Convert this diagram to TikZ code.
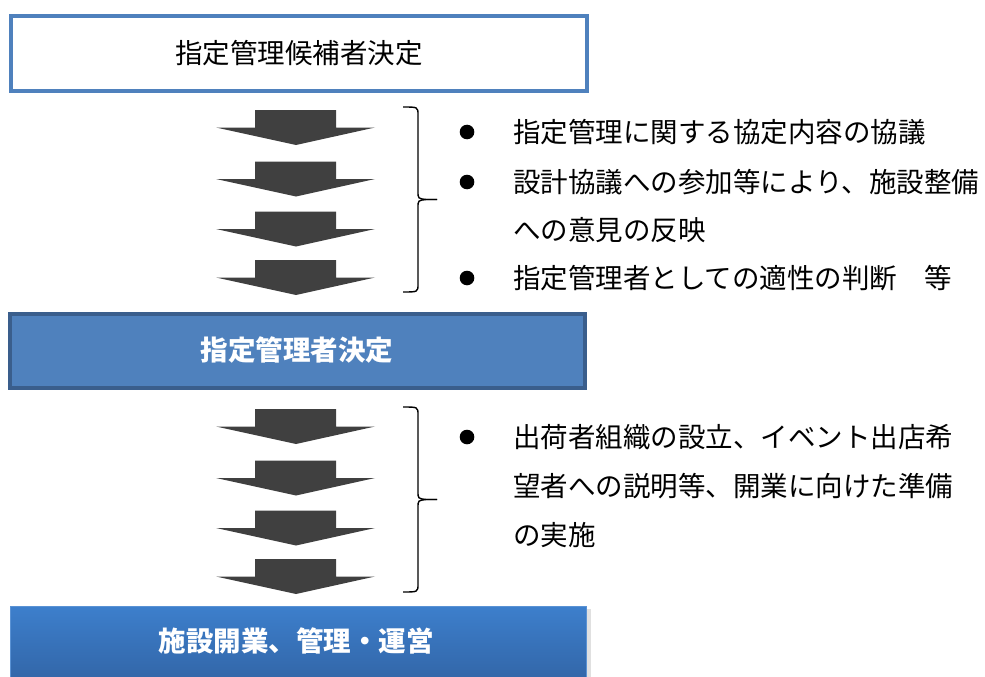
\documentclass[tikz,border=0pt]{standalone}
\usepackage{fontspec}
\newfontfamily\jp{Noto Sans CJK JP}
\definecolor{boxblue}{HTML}{4F81BD}
\definecolor{boxedge}{HTML}{3A5E8C}
\definecolor{gradtop}{HTML}{3D7FCC}
\definecolor{gradbot}{HTML}{2F5F9E}
\definecolor{arrowgray}{HTML}{404040}
\tikzset{
  boxtext/.style={font=\jp\fontsize{27.5}{32}\selectfont, inner sep=0pt},
  boxbold/.style={font=\jp\bfseries\fontsize{27.5}{32}\selectfont, inner sep=0pt, text=white},
  bodytext/.style={font=\jp\fontsize{27.5}{32}\selectfont, inner sep=0pt, anchor=west},
  bigarrow/.style={fill=arrowgray, draw=none},
  bracepath/.style={draw=black, line width=1.4pt},
}
\newcommand{\downarrowshape}[1]{%
  \fill[bigarrow] (255,#1) -- (336,#1) -- (336,#1+17.5) -- (375,#1+17.5)
    -- (296,#1+35) -- (216,#1+17.5) -- (255,#1+17.5) -- cycle;}
\newcommand{\bracketshape}[2]{%
  \draw[bracepath] (403,#1) .. controls (418,#1) .. (418,#1+8) -- (418,#2-8)
    .. controls (418,#2-1) .. (426,#2) -- (437,#2);
  \draw[bracepath] (437,#2) -- (426,#2) .. controls (418,#2+1) .. (418,#2+8)
    -- (418,2*#2-#1-8) .. controls (418,2*#2-#1) .. (403,2*#2-#1);}
\begin{document}
\begin{tikzpicture}[x=1pt,y=-1pt]
\useasboundingbox (0,0) rectangle (985,677);
\clip (0,0) rectangle (985,677);

% top box
\draw[draw=boxblue, line width=4pt, fill=white] (11,16) rectangle (587,91);
\node[boxtext, text=black] (top) at (299,53) {指定管理候補者決定};

% middle box
\draw[draw=boxedge, line width=3.5pt, fill=boxblue] (10,314) rectangle (585,388);
\node[boxbold] (mid) at (297,350) {指定管理者決定};

% bottom box
\fill[black!20, opacity=0.6] (587,609) rectangle (591,700);
\shade[top color=gradtop, bottom color=gradbot, draw=gradtop!85!white, line width=0.8pt] (10,606) rectangle (586,700);
\node[boxbold] (bot) at (296,641) {施設開業、管理・運営};

% arrows group 1
\downarrowshape{110}
\downarrowshape{161.5}
\downarrowshape{211.5}
\downarrowshape{260}
% arrows group 2
\downarrowshape{409}
\downarrowshape{460.5}
\downarrowshape{510.5}
\downarrowshape{559}

% braces
\bracketshape{107}{199.5}
\bracketshape{407}{499.5}

% bullets and text group 1
\fill (467,132) circle (7.3);
\node[bodytext] (t1) at (513,132) {指定管理に関する協定内容の協議};
\fill (467,182) circle (7.3);
\node[bodytext] (t2) at (513,182) {設計協議への参加等により、施設整備};
\node[bodytext] (t3) at (513,230) {への意見の反映};
\fill (467,278) circle (7.3);
\node[bodytext] (t4) at (513,278) {指定管理者としての適性の判断　等};

% group 2
\fill (467,437) circle (7.3);
\node[bodytext] (u1) at (513,437) {出荷者組織の設立、イベント出店希};
\node[bodytext] (u2) at (513,486) {望者への説明等、開業に向けた準備};
\node[bodytext] (u3) at (513,535) {の実施};
\end{tikzpicture}
\end{document}
